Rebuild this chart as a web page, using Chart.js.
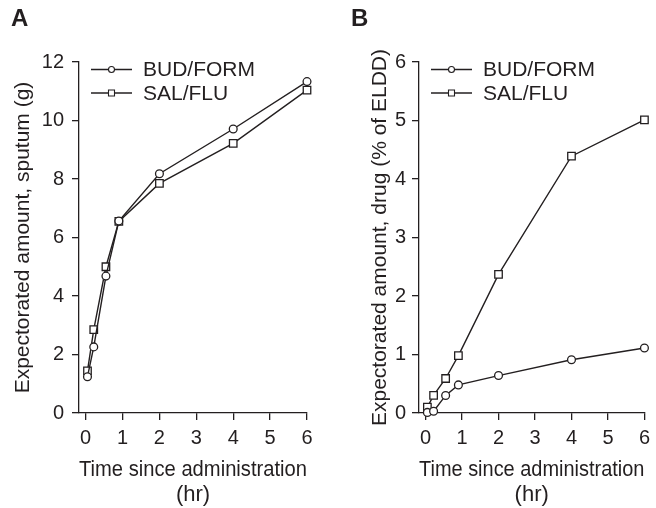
<!DOCTYPE html>
<html>
<head>
<meta charset="utf-8">
<script src="https://cdn.jsdelivr.net/npm/chart.js@4"></script>
<style>
  body { margin: 0; background: #fff; }
  #wrap { position: relative; width: 656px; height: 508px; }
  canvas { position: absolute; top: 0; }
  .panel { position: absolute; top: 4px; font: bold 24px "Liberation Sans", Arial, sans-serif; color: #231f20; }
</style>
</head>
<body>
<div id="wrap">
  <canvas id="chartA" width="328" height="508" style="left:0"></canvas>
  <canvas id="chartB" width="328" height="508" style="left:328px"></canvas>
  <div class="panel" style="left:11px">A</div>
  <div class="panel" style="left:351px">B</div>
</div>
<script>
// time points (hr)
const hours = [0.05, 0.22, 0.55, 0.9, 2, 4, 6];
const seriesNames = ['BUD/FORM', 'SAL/FLU'];

// panel A: sputum (g)
const sputumBudForm = [1.24, 2.26, 4.68, 6.56, 8.18, 9.71, 11.33];
const sputumSalFlu = [1.44, 2.85, 5.0, 6.55, 7.85, 9.22, 11.04];

// panel B: drug (% of ELDD)
const drugBudForm = [0.01, 0.03, 0.30, 0.48, 0.64, 0.91, 1.11];
const drugSalFlu = [0.10, 0.30, 0.59, 0.98, 2.37, 4.39, 5.01];

const xTicks = [0, 1, 2, 3, 4, 5, 6];
const yTicksA = [0, 2, 4, 6, 8, 10, 12];
const yTicksB = [0, 1, 2, 3, 4, 5, 6];

const ink = '#231f20';
const family = '"Liberation Sans", Arial, sans-serif';
const markers = ['circle', 'rect'];

const toPoints = (values) => values.map((v, i) => ({x: hours[i], y: v}))

const makeDataset = (label, values, idx) => ({
    label: label,
    data: toPoints(values),
    borderColor: ink,
    borderWidth: 1.4,
    backgroundColor: '#fff',
    pointStyle: markers[idx],
    pointRadius: idx === 0 ? 3.9 : 5.3,
    pointBorderWidth: 1.3,
    pointBorderColor: ink,
    pointBackgroundColor: '#fff',
    tension: 0,
    clip: false,
})

// legend drawn inside the plot area: line with marker, then the label
const insideLegend = {
    id: 'insideLegend',
    afterDraw(chart) {
        const ctx = chart.ctx;
        const area = chart.chartArea;
        ctx.save();
        chart.data.datasets.forEach((ds, i) => {
            const y = area.top + 7.5 + i * 23.5;
            const x0 = area.left + 12;
            const x1 = area.left + 53;
            const cx = (x0 + x1) / 2;
            ctx.strokeStyle = ink;
            ctx.lineWidth = 1.3;
            ctx.beginPath();
            ctx.moveTo(x0, y);
            ctx.lineTo(x1, y);
            ctx.stroke();
            ctx.fillStyle = '#fff';
            ctx.lineWidth = 1.1;
            ctx.beginPath();
            if (ds.pointStyle === 'circle') {
                ctx.arc(cx, y, 3, 0, Math.PI * 2);
            } else {
                ctx.rect(cx - 3, y - 3, 6, 6);
            }
            ctx.fill();
            ctx.stroke();
            ctx.fillStyle = ink;
            ctx.font = '21px ' + family;
            ctx.textBaseline = 'middle';
            ctx.textAlign = 'left';
            ctx.fillText(ds.label, area.left + 64, y + 1);
        });
        ctx.restore();
    }
}

const axisCommon = {
    border: {display: true, color: ink, width: 1.3},
    grid: {display: true, drawOnChartArea: false, drawTicks: true, tickLength: 7, color: ink, lineWidth: 1.3},
}

const buildChart = (canvasId, sets, yTicks, yMax, yTitle, opts) => {
    const ctx = document.getElementById(canvasId).getContext('2d');
    return new Chart(ctx, {
        type: 'line',
        data: {
            datasets: sets.map((values, i) => makeDataset(seriesNames[i], values, i)),
        },
        options: {
            responsive: false,
            animation: false,
            devicePixelRatio: 1,
            layout: {padding: {left: 0, top: 62, right: opts.rightPad, bottom: 0}},
            plugins: {legend: {display: false}, tooltip: {enabled: false}},
            scales: {
                x: {
                    type: 'linear',
                    min: -0.18,
                    max: 6,
                    ...axisCommon,
                    afterBuildTicks: s => { s.ticks = xTicks.map(v => ({value: v})) },
                    afterFit: s => { s.height = 95 },
                    ticks: {color: ink, padding: 6, font: {family: family, size: 20}},
                    title: {
                        display: true,
                        text: ['Time since administration', '(hr)'],
                        color: ink,
                        font: {family: family, size: 22, lineHeight: '25px'},
                        padding: {top: 0, bottom: 0.5},
                    },
                },
                y: {
                    type: 'linear',
                    min: 0,
                    max: yMax,
                    ...axisCommon,
                    afterBuildTicks: s => { s.ticks = yTicks.map(v => ({value: v})) },
                    afterFit: s => { s.width = opts.yWidth },
                    ticks: {color: ink, padding: opts.yTickPad, font: {family: family, size: 20}},
                    title: {
                        display: true,
                        text: yTitle,
                        color: ink,
                        font: {family: family, size: 21},
                        padding: {top: opts.yTitlePad, bottom: 0},
                    },
                },
            },
        },
        plugins: [insideLegend],
    });
}

buildChart('chartA', [sputumBudForm, sputumSalFlu], yTicksA, 12,
    'Expectorated amount, sputum (g)', {rightPad: 21, yWidth: 79, yTickPad: 8, yTitlePad: 11});
buildChart('chartB', [drugBudForm, drugSalFlu], yTicksB, 6,
    'Expectorated amount, drug (% of ELDD)', {rightPad: 9, yWidth: 91, yTickPad: 6, yTitlePad: 40});
</script>
</body>
</html>
